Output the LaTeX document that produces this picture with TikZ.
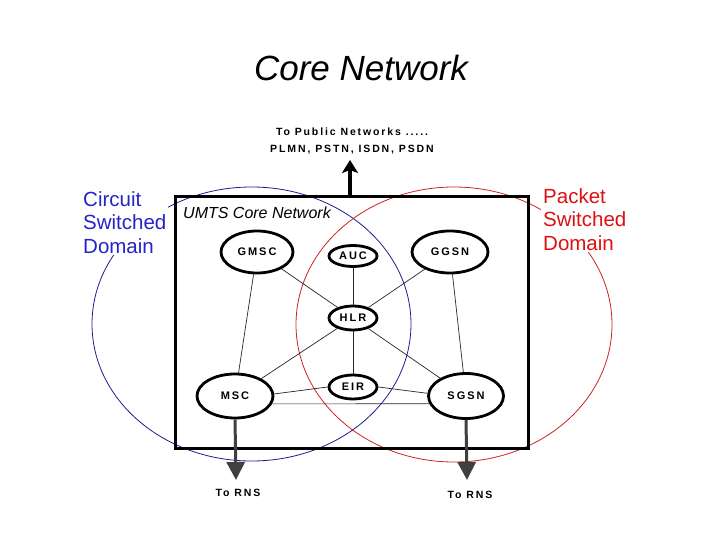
\documentclass[tikz,border=0pt]{standalone}
\usepackage{fontspec}
\setmainfont{Liberation Sans}
\newfontfamily\spacedbf[LetterSpace=18]{Liberation Sans Bold}
\usetikzlibrary{arrows.meta,shapes.geometric}
\definecolor{csblue}{HTML}{1C1C96}
\definecolor{cstext}{HTML}{2424C8}
\definecolor{psred}{HTML}{CC2222}
\definecolor{pstext}{HTML}{DD1111}
\definecolor{rnsgray}{HTML}{404040}
\tikzset{
  netnode/.style={ellipse, draw=black, line width=2.8pt, fill=white, inner sep=0pt,
    font=\spacedbf\fontsize{11}{12}\selectfont},
  link/.style={draw=black!85, line width=0.7pt},
  domaintext/.style={align=left, anchor=north west, inner sep=2pt, fill=white, font=\fontsize{20.5}{23.5}\selectfont},
  labeltext/.style={inner sep=0pt, font=\spacedbf\fontsize{10.5}{12}\selectfont},
  rnsarrow/.style={draw=rnsgray, line width=3pt, -{Triangle[width=18pt,length=18pt]}},
}
\begin{document}
\begin{tikzpicture}[x=1pt,y=-1pt]
\useasboundingbox (0,0) rectangle (720,540);
% title
\node[inner sep=0pt, font=\itshape\fontsize{35}{40}\selectfont] (title) at (361,68) {Core Network};
% domain ellipses
\draw[csblue, line width=0.8pt] (251.5,324) ellipse [x radius=159.5pt, y radius=137pt];
\draw[psred, line width=0.8pt] (454,324.5) ellipse [x radius=158pt, y radius=137.5pt];
% core network box
\draw[black, line width=3pt] (175,197) rectangle (528,448);
\coordinate (boxtop) at (350,197);
\node[inner sep=0pt, anchor=west, font=\itshape\fontsize{16}{18}\selectfont] (umts) at (183,213) {UMTS Core Network};
% domain labels
\node[domaintext, text=cstext] (cs) at (81,189) {Circuit\\Switched\\Domain};
\node[domaintext, text=pstext] (ps) at (541,186) {Packet\\Switched\\Domain};
% public network text
\node[labeltext] (pub1) at (352,132) {To Public Networks .....};
\node[labeltext] (pub2) at (352,150) {PLMN, PSTN, ISDN, PSDN};
\coordinate (puptip) at (350,160);
% nodes
\node[netnode, minimum width=72pt, minimum height=42pt] (GMSC) at (257,252) {GMSC};
\node[netnode, minimum width=48pt, minimum height=21pt] (AUC) at (353,256) {AUC};
\node[netnode, minimum width=76pt, minimum height=42pt] (GGSN) at (450,252) {GGSN};
\node[netnode, minimum width=48pt, minimum height=24pt] (HLR) at (353,318) {HLR};
\node[netnode, minimum width=48pt, minimum height=24pt] (EIR) at (353,387) {EIR};
\node[netnode, minimum width=76pt, minimum height=44pt] (MSC) at (235,396) {MSC};
\node[netnode, minimum width=75pt, minimum height=45pt] (SGSN) at (466,396) {SGSN};
% links
\draw[link] (GMSC) -- (MSC);
\draw[link] (GMSC) -- (HLR);
\draw[link] (AUC) -- (HLR);
\draw[link] (GGSN) -- (HLR);
\draw[link] (GGSN) -- (SGSN);
\draw[link] (HLR) -- (MSC);
\draw[link] (HLR) -- (EIR);
\draw[link] (HLR) -- (SGSN);
\draw[link] (MSC.3) -- (EIR.west);
\draw[link] (EIR.east) -- (SGSN.176);
\draw[link] (MSC.-12) -- (SGSN.192);
% arrows
\draw[black, line width=3.2pt, -{Stealth[width=16pt,length=13pt,inset=3pt]}] (boxtop) -- (puptip);
\coordinate (rns1tip) at (236,480);
\coordinate (rns2tip) at (467,480);
\draw[rnsarrow] (MSC.south) -- (rns1tip);
\draw[rnsarrow] (SGSN.south) -- (rns2tip);
\node[labeltext] (rns1) at (238,493) {To RNS};
\node[labeltext] (rns2) at (470,495) {To RNS};
\end{tikzpicture}
\end{document}
